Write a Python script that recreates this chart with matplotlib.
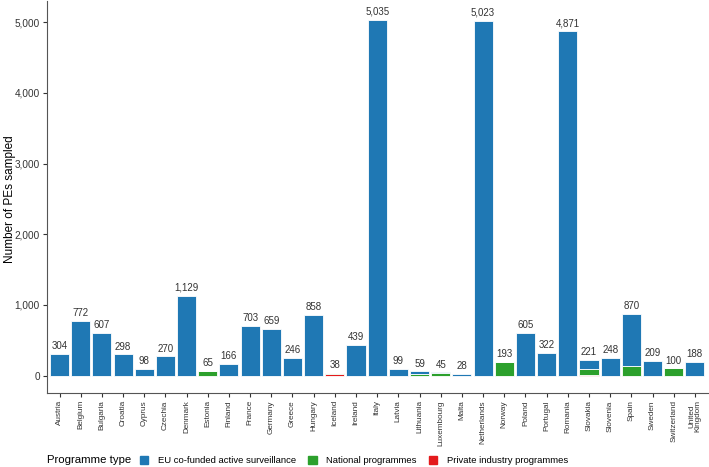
import matplotlib
matplotlib.use("Agg")
import matplotlib.pyplot as plt
import matplotlib.ticker as ticker
from matplotlib.patches import Patch
import numpy as np

plt.rcParams["font.family"] = ["Liberation Sans", "DejaVu Sans"]

countries = ["Austria", "Belgium", "Bulgaria", "Croatia", "Cyprus", "Czechia", "Denmark",
             "Estonia", "Finland", "France", "Germany", "Greece", "Hungary", "Iceland",
             "Ireland", "Italy", "Latvia", "Lithuania", "Luxembourg", "Malta", "Netherlands",
             "Norway", "Poland", "Portugal", "Romania", "Slovakia", "Slovenia", "Spain",
             "Sweden", "Switzerland", "United\nKingdom"]
eu = [304, 772, 607, 298, 98, 270, 1129, 0, 166, 703, 659, 246, 858, 0,
      439, 5035, 99, 40, 15, 28, 5023, 0, 605, 322, 4871, 135, 248, 736,
      209, 0, 188]
national = [0, 0, 0, 0, 0, 0, 0, 65, 0, 0, 0, 0, 0, 13,
            0, 0, 0, 19, 30, 0, 0, 193, 0, 0, 0, 72, 0, 134,
            0, 100, 0]
private = [0, 0, 0, 0, 0, 0, 0, 0, 0, 0, 0, 0, 0, 25,
           0, 0, 0, 0, 0, 0, 0, 0, 0, 0, 0, 14, 0, 0,
           0, 0, 0]

c_eu = "#1f78b4"
c_nat = "#2ca02c"
c_priv = "#e41a1c"

eu = np.array(eu)
national = np.array(national)
private = np.array(private)
total = eu + national + private
x = np.arange(len(countries))

fig = plt.figure(figsize=(7.09, 4.67), dpi=100)
ax = fig.add_axes([0.066, 0.158, 0.932, 0.84])

# stacked: private at bottom, national in the middle, EU on top
ax.bar(x, private, width=0.9, color=c_priv, edgecolor="white", linewidth=0.6)
ax.bar(x, national, width=0.9, bottom=private, color=c_nat, edgecolor="white", linewidth=0.6)
ax.bar(x, eu, width=0.9, bottom=private + national, color=c_eu, edgecolor="white", linewidth=0.6)

for i in range(len(x)):
    ax.text(x[i], total[i] + 40, f"{total[i]:,}", ha="center", va="bottom",
            fontsize=7, color="#333333")

ax.set_xlim(-0.6, len(x) - 0.4)
ax.set_ylim(-250, 5300)
ax.set_xticks(x)
ax.set_xticklabels(countries, rotation=90, fontsize=5.9, color="#333333", linespacing=0.9)
ax.yaxis.set_major_locator(ticker.MultipleLocator(1000))
ax.yaxis.set_major_formatter(ticker.FuncFormatter(lambda v, p: f"{int(v):,}"))
ax.tick_params(axis="y", labelsize=7.2, colors="#333333", length=3, pad=2)
ax.tick_params(axis="x", length=3, colors="#333333", pad=2)
fig.text(0.014, 0.158 + 0.84 * (250 + 2500) / 5550, "Number of PEs sampled", rotation=90,
         ha="center", va="center", fontsize=8.5)
for s in ["top", "right"]:
    ax.spines[s].set_visible(False)
for s in ["left", "bottom"]:
    ax.spines[s].set_color("#555555")

# legend along the bottom, title on the left
fig.text(0.066, 0.014, "Programme type", ha="left", va="center", fontsize=8.2)
handles = [Patch(color=c_eu, label="EU co-funded active surveillance"),
           Patch(color=c_nat, label="National programmes"),
           Patch(color=c_priv, label="Private industry programmes")]
fig.legend(handles=handles, loc="center left", bbox_to_anchor=(0.197, 0.014), ncol=3,
           frameon=False, fontsize=6.8, handlelength=0.9, handleheight=0.9,
           handletextpad=1.0, columnspacing=1.3, borderpad=0, borderaxespad=0)

fig.savefig("out.png", dpi=100)
